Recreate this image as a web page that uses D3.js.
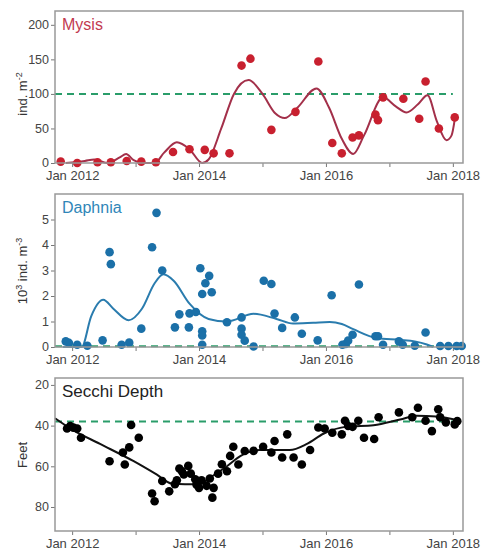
<!DOCTYPE html>
<html>
<head>
<meta charset="utf-8">
<script src="https://cdn.jsdelivr.net/npm/d3@7"></script>
<style>
  body { margin: 0; background: #fff; }
  text { font-family: "Liberation Sans", Arial, sans-serif; }
</style>
</head>
<body>
<svg id="chart" width="489" height="551"></svg>
<script>
// decimal years, values
const mysisYears = [2011.82, 2012.08, 2012.40, 2012.61, 2012.86, 2013.09, 2013.32, 2013.59, 2013.85, 2014.09, 2014.23, 2014.48, 2014.67, 2014.81, 2015.14, 2015.52, 2015.88, 2016.10, 2016.25, 2016.42, 2016.52, 2016.78, 2016.82, 2016.90, 2017.22, 2017.47, 2017.57, 2017.78, 2018.03];
const mysisValues = [2, 0, 1, 1, 3, 2, 1, 16, 20, 19, 14, 14, 141, 151, 48, 74, 147, 29, 14, 37, 40, 70, 62, 95, 93, 64, 118, 50, 66];
const mysisFitYears = [2011.9, 2012.2, 2012.35, 2012.55, 2012.75, 2012.85, 2012.97, 2013.1, 2013.3, 2013.45, 2013.65, 2013.85, 2014.05, 2014.15, 2014.35, 2014.55, 2014.78, 2015.0, 2015.2, 2015.35, 2015.55, 2015.85, 2016.05, 2016.25, 2016.43, 2016.6, 2016.9, 2017.1, 2017.27, 2017.45, 2017.6, 2017.75, 2017.9, 2017.98, 2018.03];
const mysisFit = [0, 3, 5, 0, 8, 13, 4, 0, 0, 15, 30, 20, 0, 5, 50, 100, 120, 100, 72, 65, 80, 108, 80, 35, 13, 40, 95, 82, 73, 85, 98, 60, 33, 40, 63];
const mysisTarget = 100;

const daphniaYears = [2011.90, 2011.95, 2012.08, 2012.24, 2012.48, 2012.59, 2012.61, 2012.78, 2012.90, 2013.09, 2013.26, 2013.33, 2013.42, 2013.62, 2013.69, 2013.84, 2013.85, 2013.95, 2014.02, 2014.05, 2014.05, 2014.05, 2014.05, 2014.10, 2014.16, 2014.20, 2014.44, 2014.67, 2014.67, 2014.67, 2014.72, 2014.86, 2015.02, 2015.14, 2015.19, 2015.31, 2015.51, 2015.62, 2015.87, 2016.09, 2016.26, 2016.31, 2016.35, 2016.42, 2016.52, 2016.78, 2016.82, 2016.90, 2017.15, 2017.21, 2017.40, 2017.57, 2017.80, 2017.93, 2018.06, 2018.14];
const daphniaValues = [0.22, 0.16, 0.09, 0.05, 0.26, 3.72, 3.25, 0.09, 0.17, 0.72, 3.91, 5.26, 3.0, 0.77, 1.28, 0.77, 1.32, 1.37, 3.09, 2.08, 0.62, 0.45, 0.09, 2.5, 2.79, 2.15, 0.97, 1.16, 0.72, 0.48, 0.25, 0.02, 2.6, 2.47, 1.31, 0.75, 1.16, 0.52, 0.26, 2.03, 0.09, 0.12, 0.25, 0.48, 2.45, 0.42, 0.42, 0.09, 0.22, 0.09, 0.05, 0.57, 0.04, 0.04, 0.04, 0.04];
const daphniaFitYears = [2011.85, 2012.15, 2012.3, 2012.49, 2012.65, 2012.89, 2013.1, 2013.3, 2013.44, 2013.6, 2013.85, 2014.15, 2014.44, 2014.86, 2015.22, 2015.48, 2015.8, 2016.06, 2016.25, 2016.43, 2016.8, 2017.17, 2017.4, 2017.59, 2017.69];
const daphniaFit = [0, 0, 1.2, 1.85, 1.5, 1.05, 1.5, 2.5, 2.85, 2.6, 1.7, 1.1, 1.0, 1.3, 1.1, 0.92, 0.95, 0.98, 0.9, 0.7, 0.35, 0.28, 0.22, 0.1, 0];
const daphniaTarget = 0.03;

const secchiYears = [2011.92, 2011.97, 2012.02, 2012.08, 2012.14, 2012.59, 2012.80, 2012.83, 2012.90, 2012.93, 2013.05, 2013.26, 2013.30, 2013.42, 2013.53, 2013.62, 2013.65, 2013.69, 2013.73, 2013.76, 2013.83, 2013.87, 2013.94, 2013.96, 2014.0, 2014.04, 2014.12, 2014.17, 2014.21, 2014.23, 2014.30, 2014.36, 2014.44, 2014.49, 2014.54, 2014.62, 2014.72, 2014.86, 2015.01, 2015.14, 2015.19, 2015.31, 2015.39, 2015.49, 2015.62, 2015.75, 2015.88, 2015.98, 2016.10, 2016.25, 2016.30, 2016.35, 2016.42, 2016.51, 2016.60, 2016.76, 2016.83, 2017.15, 2017.36, 2017.45, 2017.57, 2017.67, 2017.77, 2017.80, 2017.89, 2018.03, 2018.07];
const secchiValues = [41.4, 40.2, 41, 41.4, 46, 57.5, 53.2, 59.1, 50.7, 39.7, 46, 73.4, 77.2, 67.2, 72.3, 68.8, 66.9, 61.1, 62.4, 64, 59.8, 63.6, 66.4, 69, 70.6, 66.9, 69.6, 66, 75.4, 70.6, 63.6, 59, 62.4, 54.9, 50.4, 59.1, 52.5, 52.4, 50.4, 53.2, 47.6, 55.7, 44.3, 55.7, 59.1, 52, 40.9, 41.4, 43.5, 44.3, 37.6, 40.2, 40.6, 37.6, 46, 46.6, 35.9, 33.5, 35.9, 31.2, 37.6, 42.7, 32, 35.9, 38.4, 39.4, 37.8];
const secchiFitYears = [2011.73, 2012.0, 2012.44, 2012.97, 2013.33, 2013.57, 2013.78, 2013.99, 2014.23, 2014.44, 2014.65, 2014.96, 2015.43, 2015.7, 2015.96, 2016.33, 2016.75, 2017.17, 2017.43, 2017.74, 2018.1];
const secchiFit = [36.4, 42, 49, 57.5, 64, 68.5, 68.8, 68.8, 64.4, 60, 55, 52, 52, 49, 44, 40.5, 39.8, 37, 35.2, 35.5, 37.5];
const secchiTarget = 38;

const xTicks = [2012, 2013, 2014, 2015, 2016, 2017, 2018];
const xLabels = ["Jan 2012", "", "Jan 2014", "", "Jan 2016", "", "Jan 2018"];

const svg = d3.select("#chart");
const left = 55, right = 463;
const x = d3.scaleLinear().domain([2011.73, 2018.16]).range([left, right]);
const green = "#2a9d6a";

const panels = [
  { title: "Mysis", titleColor: "#c23a50", top: 11, bottom: 163, domain: [0, 220],
    yTicks: [0, 50, 100, 150, 200], years: mysisYears, values: mysisValues,
    fitYears: mysisFitYears, fit: mysisFit, target: mysisTarget, targetEnd: 2018.0,
    dot: "#c8202f", line: "#a3304a", titleSize: 16 },
  { title: "Daphnia", titleColor: "#2f86b8", top: 194, bottom: 347, domain: [0, 6],
    yTicks: [0, 1, 2, 3, 4, 5], years: daphniaYears, values: daphniaValues,
    fitYears: daphniaFitYears, fit: daphniaFit, target: daphniaTarget, targetEnd: 2018.16,
    dot: "#1b70a8", line: "#2a7cae", titleSize: 16 },
  { title: "Secchi Depth", titleColor: "#222", top: 378, bottom: 531, domain: [16.6, 91.8],
    yTicks: [20, 40, 60, 80], years: secchiYears, values: secchiValues,
    fitYears: secchiFitYears, fit: secchiFit, target: secchiTarget, targetEnd: 2018.05,
    dot: "#000", line: "#111", titleSize: 17, reversed: true }
];

panels.forEach(p => {
  const y = d3.scaleLinear().domain(p.domain)
    .range(p.reversed ? [p.top, p.bottom] : [p.bottom, p.top]);
  const g = svg.append("g");

  // y axis
  const yAxis = g.append("g")
    .attr("transform", `translate(${left},0)`)
    .call(d3.axisLeft(y).tickValues(p.yTicks).tickSize(4).tickPadding(2).tickFormat(d3.format("d")));
  yAxis.select(".domain").remove();
  yAxis.selectAll("line").attr("stroke", "#777");
  yAxis.selectAll("text").attr("fill", "#444").style("font-size", "12.5px")
    .attr("dy", "0.3em")
    .style("font-family", "Liberation Sans, Arial, sans-serif");

  // x axis
  const xAxis = g.append("g")
    .attr("transform", `translate(0,${p.bottom})`)
    .call(d3.axisBottom(x).tickValues(xTicks).tickSize(4).tickPadding(4)
      .tickFormat((d, i) => xLabels[i]));
  xAxis.select(".domain").remove();
  xAxis.selectAll("line").attr("stroke", "#777");
  xAxis.selectAll("text").attr("fill", "#444").style("font-size", "13px")
    .style("font-family", "Liberation Sans, Arial, sans-serif");

  // target line
  g.append("line")
    .attr("x1", x(2011.73)).attr("x2", x(p.targetEnd))
    .attr("y1", y(p.target)).attr("y2", y(p.target))
    .attr("stroke", green).attr("stroke-width", 2)
    .attr("stroke-dasharray", "7,5");

  // smoothed fit
  const pts = p.fitYears.map((yr, i) => [yr, p.fit[i]]);
  g.append("path")
    .attr("d", d3.line().x(d => x(d[0])).y(d => y(d[1])).curve(d3.curveMonotoneX)(pts))
    .attr("fill", "none").attr("stroke", p.line).attr("stroke-width", 2);

  // observations
  g.selectAll(".dot")
    .data(p.years.map((yr, i) => [yr, p.values[i]]))
    .join("circle")
    .attr("cx", d => x(d[0])).attr("cy", d => y(d[1]))
    .attr("r", 4.3).attr("fill", p.dot);

  // frame
  g.append("rect")
    .attr("x", left).attr("y", p.top)
    .attr("width", right - left).attr("height", p.bottom - p.top)
    .attr("fill", "none").attr("stroke", "#999").attr("stroke-width", 1.5);

  g.append("text")
    .attr("x", 62).attr("y", p.top + 19)
    .attr("fill", p.titleColor).style("font-size", p.titleSize + "px")
    .text(p.title);
});

// y axis titles, superscripts shift up then back to the baseline
function yTitle(cy, parts) {
  const t = svg.append("text")
    .attr("transform", `translate(27,${cy}) rotate(-90)`)
    .attr("text-anchor", "middle")
    .attr("fill", "#333").style("font-size", "13px");
  let shift = 0;
  parts.forEach(([s, sup]) => {
    const target = sup ? -5 : 0;
    t.append("tspan")
      .attr("dy", target - shift)
      .style("font-size", sup ? "9px" : "13px")
      .text(s);
    shift = target;
  });
}
yTitle(94, [["ind. m", 0], ["-2", 1]]);
yTitle(271, [["10", 0], ["3", 1], [" ind. m", 0], ["-3", 1]]);
yTitle(455, [["Feet", 0]]);
</script>
</body>
</html>
